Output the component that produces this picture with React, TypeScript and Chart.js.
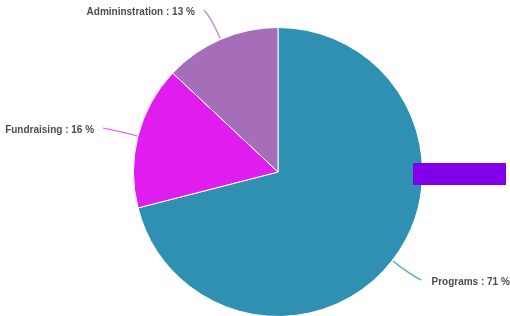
import React, { useEffect, useRef } from "react";
import { Chart, registerables } from "chart.js";

Chart.register(...registerables);

const categories = ["Programs", "Fundraising", "Admininstration"];
const values = [71, 16, 13];
const colors = ["#3090B1", "#E01CEE", "#A66DB8"];
const lineColors = ["#62AACB", "#E468F2", "#C190D0"];

const labelPlugin = {
  id: "outerLabels",
  afterDatasetsDraw(chart: any) {
    const ctx = chart.ctx;
    const meta = chart.getDatasetMeta(0);
    ctx.save();
    meta.data.forEach((arc: any, i: number) => {
      const { x, y, startAngle, endAngle, outerRadius } = arc.getProps(
        ["x", "y", "startAngle", "endAngle", "outerRadius"],
        true
      );
      const mid = (startAngle + endAngle) / 2;
      const cos = Math.cos(mid);
      const sin = Math.sin(mid);
      const right = cos >= 0;
      const ax = x + cos * (outerRadius + 1);
      const ay = y + sin * (outerRadius + 1);
      const cx = x + cos * (outerRadius + 24);
      const cy = y + sin * (outerRadius + 24);
      const ex = x + cos * (outerRadius + 32) + (right ? 4 : -4);
      const ey = y + sin * (outerRadius + 32);
      ctx.strokeStyle = lineColors[i];
      ctx.lineWidth = 1.4;
      ctx.beginPath();
      ctx.moveTo(ax, ay);
      ctx.quadraticCurveTo(cx, cy, ex, ey);
      ctx.stroke();
      ctx.font = "bold 10px 'Liberation Sans', Arial, sans-serif";
      ctx.fillStyle = "#4c4c4c";
      ctx.textBaseline = "middle";
      ctx.textAlign = right ? "left" : "right";
      const text = categories[i] + " : " + values[i] + " %";
      ctx.fillText(text, ex + (right ? 10 : -9), ey + 2);
    });
    ctx.restore();
  },
};

export default function App() {
  const ref = useRef<HTMLCanvasElement>(null);
  useEffect(() => {
    document.body.style.margin = "0";
    document.body.style.overflow = "hidden";
    const chart = new Chart(ref.current!, {
      type: "pie",
      data: {
        labels: categories,
        datasets: [
          {
            data: values,
            backgroundColor: colors,
            borderColor: "#ffffff",
            borderWidth: 1,
          },
        ],
      },
      options: {
        responsive: false,
        animation: false,
        layout: { padding: { left: 133, right: 87, top: 27, bottom: 1 } },
        plugins: {
          legend: { display: false },
          tooltip: { enabled: false },
        },
      },
      plugins: [labelPlugin],
    });
    return () => chart.destroy();
  }, []);
  return (
    <div style={{ position: "relative", width: 510, height: 318 }}>
      <canvas ref={ref} width={510} height={318} style={{ display: "block" }} />
      <div
        style={{
          position: "absolute",
          left: 413,
          top: 163,
          width: 93,
          height: 22,
          background: "#8000E9",
        }}
      />
    </div>
  );
}
